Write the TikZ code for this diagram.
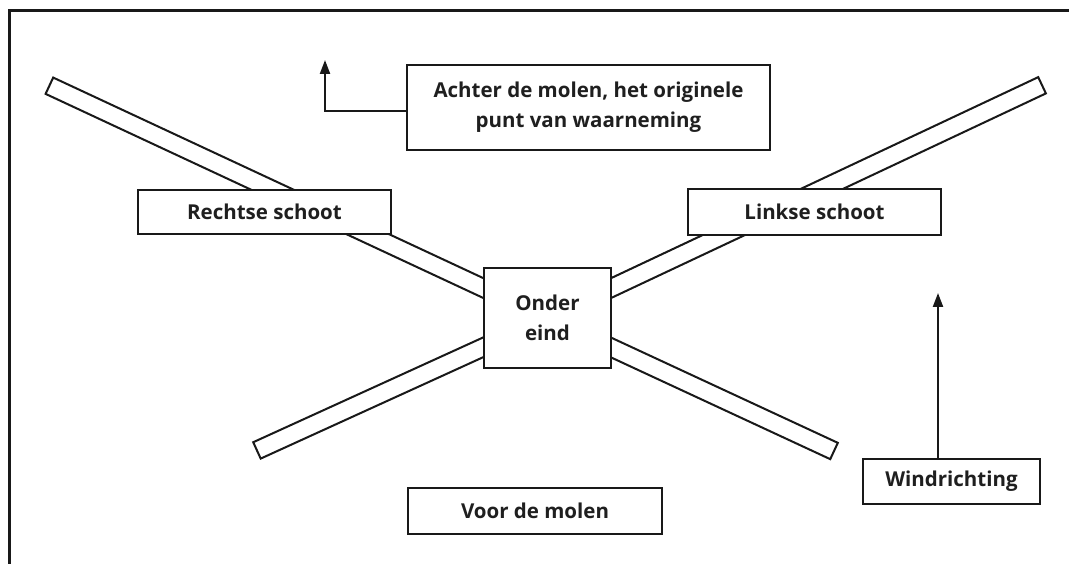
\documentclass[tikz,border=0pt]{standalone}
\usepackage{fontspec}
\setmainfont{Open Sans}
\usetikzlibrary{arrows.meta}
\begin{document}
\begin{tikzpicture}[x=1pt,y=-1pt,
  box/.style={draw=black!90, line width=2.4pt, fill=white, font=\fontsize{20.5}{30}\selectfont\bfseries, text=black!88, align=center, inner sep=0pt},
  blade/.style={draw=black!90, line width=2pt, fill=white, line join=miter},
  arr/.style={draw=black!90, line width=2.2pt, -{Triangle[length=14pt,width=10pt]}},
  frame/.style={draw=black!90, line width=3pt}]
\useasboundingbox (0,0) rectangle (1069,564);
% frame (only top and left edges visible)
\coordinate (f1) at (9,564);
\coordinate (f2) at (9,11);
\coordinate (f3) at (1069,11);
\draw[frame] (f1) -- (f2) -- (f3);
% blades
\coordinate (C) at (547.5,318);
\begin{scope}[shift={(C)}]
  \draw[blade, rotate=155] (0,-9) rectangle (549.6,9);
  \draw[blade, rotate=25.2] (0,-9) rectangle (546.6,9);
  \draw[blade, rotate=204.5] (0,-9) rectangle (319.3,9);
  \draw[blade, rotate=-24.9] (0,-9) rectangle (315.9,9);
\end{scope}
% boxes
\node[box, minimum width=363pt, minimum height=85pt] (achter) at (588.5,107.5) {Achter de molen, het originele\\punt van waarneming};
\node[box, minimum width=253pt, minimum height=44pt] (rechts) at (264.5,212) {Rechtse schoot};
\node[box, minimum width=253pt, minimum height=46pt] (links) at (814.5,212) {Linkse schoot};
\node[box, minimum width=127pt, minimum height=100pt] (onder) at (547.5,318) {Onder\\eind};
\node[box, minimum width=177pt, minimum height=45pt] (wind) at (951.5,481.5) {Windrichting};
\node[box, minimum width=254pt, minimum height=46pt] (voor) at (535,511) {Voor de molen};
% arrows
\coordinate (tipA) at (325,60);
\coordinate (tipW) at (938,293);
\draw[arr] ([yshift=-3.5pt]achter.west) -| (tipA);
\draw[arr] (tipW |- wind.north) -- (tipW);
\end{tikzpicture}
\end{document}
